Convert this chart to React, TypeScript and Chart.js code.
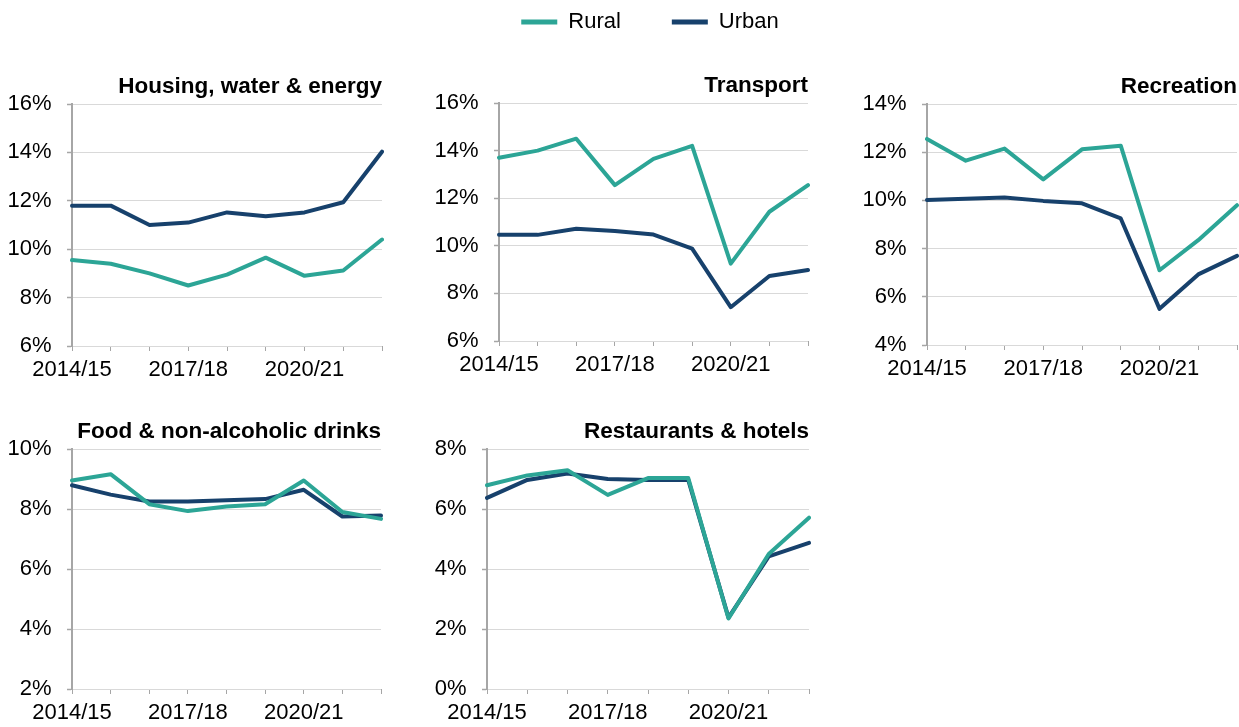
import React, { useEffect, useRef } from 'react';
import { Chart, registerables } from 'chart.js';

Chart.register(...registerables);

// ---------- data ----------
const categories = ['2014/15', '2015/16', '2016/17', '2017/18', '2018/19', '2019/20', '2020/21', '2021/22', '2022/23'];
const xTickLabels = ['2014/15', '', '', '2017/18', '', '', '2020/21', '', ''];
const seriesNames = ['Rural', 'Urban'];

const housingRural = [9.55, 9.4, 9.0, 8.5, 8.95, 9.65, 8.9, 9.12, 10.4];
const housingUrban = [11.8, 11.8, 11.0, 11.1, 11.52, 11.36, 11.52, 11.94, 14.03];

const transportRural = [13.7, 14.0, 14.5, 12.55, 13.65, 14.2, 9.25, 11.43, 12.55];
const transportUrban = [10.46, 10.46, 10.72, 10.62, 10.47, 9.88, 7.42, 8.73, 8.98];

const recreationRural = [12.55, 11.65, 12.15, 10.87, 12.12, 12.27, 7.1, 8.35, 9.8];
const recreationUrban = [10.02, 10.07, 10.12, 9.98, 9.88, 9.25, 5.5, 6.93, 7.7];

const foodRural = [8.95, 9.16, 8.16, 7.93, 8.08, 8.16, 8.95, 7.9, 7.67];
const foodUrban = [8.79, 8.48, 8.25, 8.25, 8.29, 8.33, 8.64, 7.75, 7.78];

const restaurantsRural = [6.79, 7.12, 7.29, 6.47, 7.03, 7.03, 2.35, 4.5, 5.71];
const restaurantsUrban = [6.37, 6.97, 7.18, 7.0, 6.97, 6.97, 2.38, 4.42, 4.87];

// ---------- styles ----------
const FONT = "'Liberation Sans', Arial, Helvetica, sans-serif";
const TEXT = '#000000';
const RURAL = '#2ca596';
const URBAN = '#17416c';
const GRID = '#d9d9d9';
const AXIS = '#a6a6a6';

const TICK_SIZE = 22;
const TITLE_SIZE = 22.5;
const TITLE_GAP = 4;
const Y_AXIS_W = 70;
const X_AXIS_H = 40;
const PAD_R = 2;

type PanelDef = {
  title: string;
  rural: number[];
  urban: number[];
  yMin: number;
  yMax: number;
  plot: [number, number, number, number]; // left, right, top, bottom
};

const panels: PanelDef[] = [
  { title: 'Housing, water & energy', rural: housingRural, urban: housingUrban, yMin: 6, yMax: 16, plot: [72, 382, 104, 346] },
  { title: 'Transport', rural: transportRural, urban: transportUrban, yMin: 6, yMax: 16, plot: [499, 808, 103, 341] },
  { title: 'Recreation', rural: recreationRural, urban: recreationUrban, yMin: 4, yMax: 14, plot: [927, 1237, 104, 345] },
  { title: 'Food & non-alcoholic drinks', rural: foodRural, urban: foodUrban, yMin: 2, yMax: 10, plot: [72, 381, 449, 689] },
  { title: 'Restaurants & hotels', rural: restaurantsRural, urban: restaurantsUrban, yMin: 0, yMax: 8, plot: [487, 809, 449, 689] },
];

function Panel({ def }: { def: PanelDef }) {
  const ref = useRef<HTMLCanvasElement>(null);
  const [pl, pr, pt, pb] = def.plot;
  const titleBlock = TITLE_SIZE * 1.2 + TITLE_GAP;
  const canvasTop = Math.floor(pt - titleBlock);
  const padTop = pt - titleBlock - canvasTop;
  const left = pl - Y_AXIS_W;
  const width = pr - pl + Y_AXIS_W + PAD_R;
  const height = pb - canvasTop + X_AXIS_H;

  useEffect(() => {
    const chart = new Chart(ref.current as HTMLCanvasElement, {
      type: 'line',
      data: {
        labels: categories,
        datasets: [
          {
            label: seriesNames[0],
            data: def.rural,
            borderColor: RURAL,
            backgroundColor: RURAL,
            borderWidth: 4,
            pointRadius: 0,
            tension: 0,
            borderJoinStyle: 'round',
            borderCapStyle: 'round',
          },
          {
            label: seriesNames[1],
            data: def.urban,
            borderColor: URBAN,
            backgroundColor: URBAN,
            borderWidth: 4,
            pointRadius: 0,
            tension: 0,
            borderJoinStyle: 'round',
            borderCapStyle: 'round',
          },
        ],
      },
      options: {
        responsive: false,
        animation: false,
        layout: { padding: { top: padTop, left: 0, right: PAD_R, bottom: 0 } },
        plugins: {
          legend: { display: false },
          tooltip: { enabled: false },
          title: {
            display: true,
            text: def.title,
            align: 'end',
            color: TEXT,
            font: { family: FONT, size: TITLE_SIZE, weight: 'bold', lineHeight: 1.2 },
            padding: { top: 0, bottom: TITLE_GAP },
          },
        },
        scales: {
          x: {
            type: 'category',
            offset: false,
            grid: {
              display: true,
              drawOnChartArea: false,
              drawTicks: true,
              tickLength: 5,
              tickColor: AXIS,
              tickWidth: 1,
            },
            border: { display: false },
            ticks: {
              autoSkip: false,
              maxRotation: 0,
              minRotation: 0,
              padding: 6,
              color: TEXT,
              font: { family: FONT, size: TICK_SIZE, lineHeight: 1.2 },
              callback: (_v: any, i: number) => xTickLabels[i],
            },
            afterFit: (s: any) => {
              s.height = X_AXIS_H;
              s.paddingLeft = 0;
              s.paddingRight = 0;
            },
          },
          y: {
            min: def.yMin,
            max: def.yMax,
            grid: {
              color: GRID,
              lineWidth: 1,
              drawTicks: true,
              tickLength: 5,
              tickColor: AXIS,
              tickWidth: 1.5,
            },
            border: { display: true, color: AXIS, width: 2 },
            ticks: {
              stepSize: 2,
              padding: 15.5,
              color: TEXT,
              font: { family: FONT, size: TICK_SIZE, lineHeight: 1.2 },
              callback: (v: any) => `${v}%`,
            },
            afterFit: (s: any) => {
              s.width = Y_AXIS_W;
              s.paddingTop = 0;
              s.paddingBottom = 0;
            },
          },
        },
      },
    } as any);
    return () => chart.destroy();
  }, []);

  return (
    <canvas
      ref={ref}
      width={width}
      height={height}
      style={{ position: 'absolute', left, top: canvasTop, width, height }}
    />
  );
}

function Legend() {
  const ref = useRef<HTMLCanvasElement>(null);
  const width = 400;
  const height = 140;
  const gap = 51;
  useEffect(() => {
    const chart = new Chart(ref.current as HTMLCanvasElement, {
      type: 'line',
      data: {
        labels: [],
        datasets: [
          { label: seriesNames[0], data: [], borderColor: RURAL, backgroundColor: RURAL, borderWidth: 5, borderCapStyle: 'round' },
          { label: seriesNames[1], data: [], borderColor: URBAN, backgroundColor: URBAN, borderWidth: 5, borderCapStyle: 'round' },
        ],
      },
      options: {
        responsive: false,
        animation: false,
        layout: { padding: 0 },
        scales: { x: { display: false }, y: { display: false } },
        plugins: {
          tooltip: { enabled: false },
          legend: {
            display: true,
            position: 'top',
            align: 'center',
            labels: {
              usePointStyle: true,
              pointStyle: 'line',
              pointStyleWidth: 36,
              padding: gap,
              color: TEXT,
              font: { family: FONT, size: 22 },
            },
          },
        },
      },
    } as any);
    return () => chart.destroy();
  }, []);
  return (
    <canvas
      ref={ref}
      width={width}
      height={height}
      style={{ position: 'absolute', left: 450, top: -40, width, height, pointerEvents: 'none' }}
    />
  );
}

export default function App() {
  return (
    <div
      style={{
        position: 'absolute',
        left: 0,
        top: 0,
        width: 1239,
        height: 727,
        overflow: 'hidden',
        background: '#ffffff',
      }}
    >
      <Legend />
      {panels.map((p) => (
        <Panel key={p.title} def={p} />
      ))}
    </div>
  );
}
